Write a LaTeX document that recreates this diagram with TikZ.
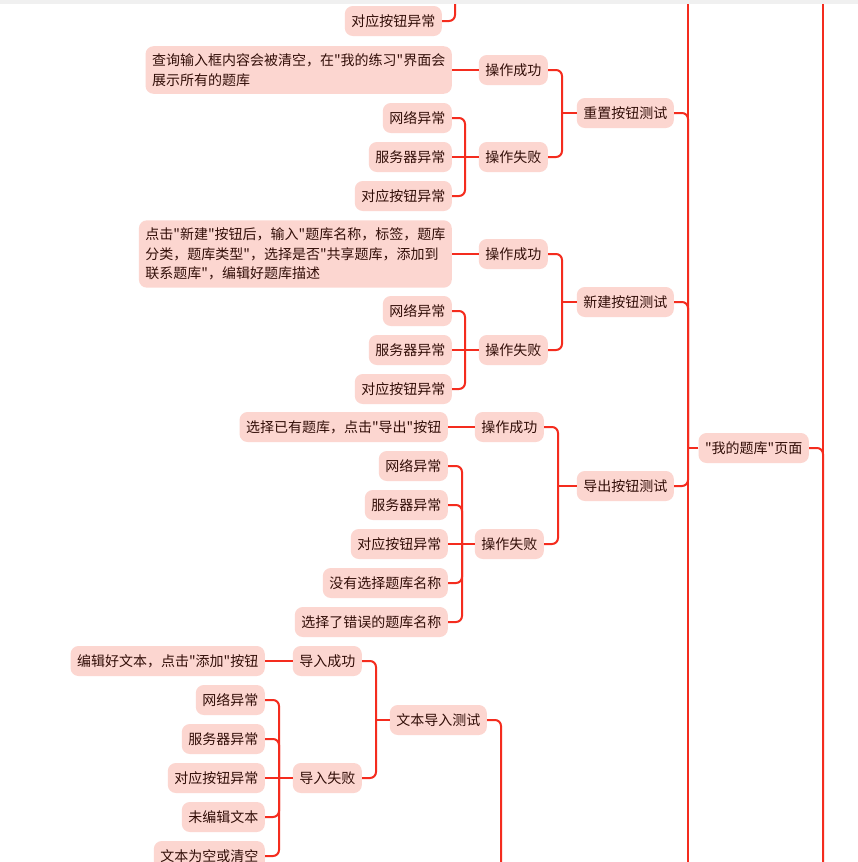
\documentclass[tikz,border=0pt]{standalone}
\usepackage{fontspec}
\newfontfamily\cjk{Noto Sans CJK SC}
\definecolor{mapfill}{RGB}{252,214,208}
\definecolor{mapline}{RGB}{244,44,30}
\definecolor{maptext}{RGB}{50,14,8}
\begin{document}
\begin{tikzpicture}[x=1pt,y=-1pt,
    topic/.style={fill=mapfill,rounded corners=8pt,minimum height=30pt,
        inner xsep=6.5pt,inner ysep=0pt,text=maptext,
        font=\cjk\fontsize{14}{19.5}\selectfont,anchor=east},
    note/.style={topic,align=left,inner ysep=7.5pt},
    link/.style={draw=mapline,line width=2pt,rounded corners=6pt}
]
    \useasboundingbox (0,0) rectangle (858,862);
    \clip (0,0) rectangle (858,862);
    \fill[white] (0,0) rectangle (858,862);

    % page node and its two brackets
    \node[topic] (page) at (809,448) {"我的题库"页面};
    \coordinate (ptop) at (688,-20);
    \coordinate (pbot) at (688,900);
    \coordinate (pj) at (688,448);
    \coordinate (utop) at (823,-20);
    \coordinate (ubot) at (823,900);
    \draw[link] (ptop) -- (pbot);
    \draw[link] (utop) -- (ubot);
    \draw[link] (page.west) -- (pj);
    \draw[link] (ubot) |- (page.east);

    % end of the section above
    \node[topic] (qbtn) at (442,21) {对应按钮异常};
    \coordinate (qtop) at (455,-20);
    \draw[link] (qtop) |- (qbtn.east);

    % reset
    \node[topic] (reset) at (674,113) {重置按钮测试};
    \node[topic] (rok) at (548,70) {操作成功};
    \node[topic] (rfail) at (548,157) {操作失败};
    \node[note] (rokt) at (452,70)
        {查询输入框内容会被清空，在"我的练习"界面会\\展示所有的题库};
    \node[topic] (rnet) at (452,118) {网络异常};
    \node[topic] (rsrv) at (452,157) {服务器异常};
    \node[topic] (rbtn) at (452,196) {对应按钮异常};
    \coordinate (rj) at (562,113);
    \coordinate (rfj) at (465,157);
    \draw[link] (pj) |- (reset.east);
    \draw[link] (reset.west) -- (rj);
    \draw[link] (rj) |- (rok.east);
    \draw[link] (rj) |- (rfail.east);
    \draw[link] (rok.west) -- (rokt.east);
    \draw[link] (rfail.west) -- (rsrv.east);
    \draw[link] (rfj) |- (rnet.east);
    \draw[link] (rfj) |- (rbtn.east);

    % new
    \node[topic] (nnew) at (674,302) {新建按钮测试};
    \node[topic] (nok) at (548,254) {操作成功};
    \node[topic] (nfail) at (548,350) {操作失败};
    \node[note] (nokt) at (452,254)
        {点击"新建"按钮后，输入"题库名称，标签，题库\\分类，题库类型"，选择是否"共享题库，添加到\\联系题库"，编辑好题库描述};
    \node[topic] (nnet) at (452,311) {网络异常};
    \node[topic] (nsrv) at (452,350) {服务器异常};
    \node[topic] (nbtn) at (452,389) {对应按钮异常};
    \coordinate (nj) at (562,302);
    \coordinate (nfj) at (465,350);
    \draw[link] (pj) |- (nnew.east);
    \draw[link] (nnew.west) -- (nj);
    \draw[link] (nj) |- (nok.east);
    \draw[link] (nj) |- (nfail.east);
    \draw[link] (nok.west) -- (nokt.east);
    \draw[link] (nfail.west) -- (nsrv.east);
    \draw[link] (nfj) |- (nnet.east);
    \draw[link] (nfj) |- (nbtn.east);

    % export
    \node[topic] (exp) at (674,486) {导出按钮测试};
    \node[topic] (eok) at (544,427) {操作成功};
    \node[topic] (efail) at (544,544) {操作失败};
    \node[topic] (eokt) at (448,427) {选择已有题库，点击"导出"按钮};
    \node[topic] (enet) at (448,466) {网络异常};
    \node[topic] (esrv) at (448,505) {服务器异常};
    \node[topic] (ebtn) at (448,544) {对应按钮异常};
    \node[topic] (enone) at (448,583) {没有选择题库名称};
    \node[topic] (ewrong) at (448,622) {选择了错误的题库名称};
    \coordinate (ej) at (558,486);
    \coordinate (efj) at (462,544);
    \draw[link] (pj) |- (exp.east);
    \draw[link] (exp.west) -- (ej);
    \draw[link] (ej) |- (eok.east);
    \draw[link] (ej) |- (efail.east);
    \draw[link] (eok.west) -- (eokt.east);
    \draw[link] (efail.west) -- (ebtn.east);
    \draw[link] (efj) |- (enet.east);
    \draw[link] (efj) |- (esrv.east);
    \draw[link] (efj) |- (enone.east);
    \draw[link] (efj) |- (ewrong.east);

    % text import
    \node[topic] (imp) at (487,720) {文本导入测试};
    \node[topic] (iok) at (362,661) {导入成功};
    \node[topic] (ifail) at (362,778) {导入失败};
    \node[topic] (iokt) at (265,661) {编辑好文本，点击"添加"按钮};
    \node[topic] (inet) at (265,700) {网络异常};
    \node[topic] (isrv) at (265,739) {服务器异常};
    \node[topic] (ibtn) at (265,778) {对应按钮异常};
    \node[topic] (inone) at (265,817) {未编辑文本};
    \node[topic] (iclear) at (265,856) {文本为空或清空};
    \coordinate (ibot) at (501,900);
    \coordinate (ij) at (376,720);
    \coordinate (ifj) at (279,778);
    \draw[link] (ibot) |- (imp.east);
    \draw[link] (imp.west) -- (ij);
    \draw[link] (ij) |- (iok.east);
    \draw[link] (ij) |- (ifail.east);
    \draw[link] (iok.west) -- (iokt.east);
    \draw[link] (ifail.west) -- (ibtn.east);
    \draw[link] (ifj) |- (inet.east);
    \draw[link] (ifj) |- (isrv.east);
    \draw[link] (ifj) |- (inone.east);
    \draw[link] (ifj) |- (iclear.east);

    \fill[black!6] (0,0) rectangle (858,3.5);
\end{tikzpicture}
\end{document}
